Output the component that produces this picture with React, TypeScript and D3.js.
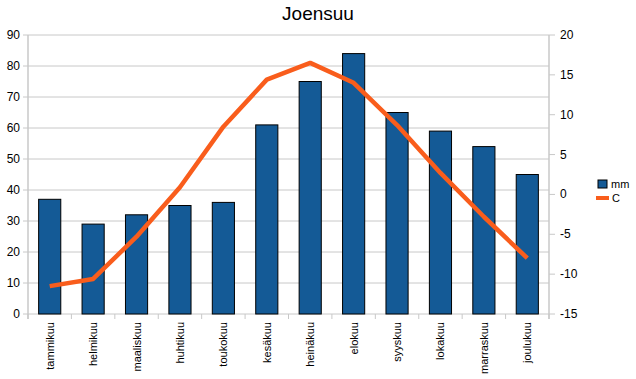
import React from "react";
import * as d3 from "d3";

const months = ["tammikuu","helmikuu","maaliskuu","huhtikuu","toukokuu","kesäkuu","heinäkuu","elokuu","syyskuu","lokakuu","marraskuu","joulukuu"];
const precip = [37, 29, 32, 35, 36, 61, 75, 84, 65, 59, 54, 45];
const temp = [-11.5, -10.6, -5.3, 0.9, 8.5, 14.4, 16.5, 14.0, 8.7, 2.7, -2.8, -8.0];
const leftTicks = [0, 10, 20, 30, 40, 50, 60, 70, 80, 90];
const rightTicks = [-15, -10, -5, 0, 5, 10, 15, 20];

export default function App() {
  const W = 636, H = 379;
  const x0 = 28, x1 = 549, yTop = 35, yBot = 314;
  const font = "'Liberation Sans', Arial, sans-serif";
  const x = d3.scaleBand<string>().domain(months).range([x0, x1]).paddingInner(0).paddingOuter(0);
  const yL = d3.scaleLinear().domain([0, 90]).range([yBot, yTop]);
  const yR = d3.scaleLinear().domain([-15, 20]).range([yBot, yTop]);
  const bw = x.bandwidth() * 0.51;
  const line = d3.line<number>()
    .x((_, i) => (x(months[i]) as number) + x.bandwidth() / 2)
    .y((d) => yR(d));
  const boundaries = months.map((m) => x(m) as number).concat([x1]);
  return (
    <svg width={W} height={H} style={{ position: "absolute", left: 0, top: 0 }}>
      <rect width={W} height={H} fill="#fff" />
      <text x={318} y={20} textAnchor="middle" fontFamily={font} fontSize={19} fill="#000">Joensuu</text>
      {leftTicks.map((t) => (
        <g key={"l" + t}>
          <line x1={x0 - 5} x2={x1} y1={yL(t)} y2={yL(t)} stroke="#c8c8c8" strokeWidth={1} />
          <text x={20} y={yL(t) + 4} textAnchor="end" fontFamily={font} fontSize={12} fill="#000">{t}</text>
        </g>
      ))}
      {rightTicks.map((t) => (
        <g key={"r" + t}>
          <line x1={x1} x2={x1 + 6} y1={yR(t)} y2={yR(t)} stroke="#c8c8c8" strokeWidth={1} />
          <text x={560} y={yR(t) + 4} textAnchor="start" fontFamily={font} fontSize={12} fill="#000">{t}</text>
        </g>
      ))}
      <line x1={x0} x2={x0} y1={yTop} y2={yBot + 5} stroke="#c8c8c8" strokeWidth={1.5} />
      <line x1={x1} x2={x1} y1={yTop} y2={yBot + 5} stroke="#c8c8c8" strokeWidth={1.5} />
      {boundaries.map((b, i) => (
        <line key={"b" + i} x1={b} x2={b} y1={yBot} y2={yBot + 5} stroke="#c8c8c8" strokeWidth={1} />
      ))}
      {precip.map((v, i) => {
        const cx = (x(months[i]) as number) + x.bandwidth() / 2;
        return (
          <rect key={"bar" + i} x={cx - bw / 2} y={yL(v)} width={bw} height={yBot - yL(v)}
            fill="#145a96" stroke="#000" strokeWidth={1} />
        );
      })}
      <path d={line(temp) || ""} fill="none" stroke="#f95d1c" strokeWidth={4.5} strokeLinejoin="round" />
      {months.map((m) => {
        const cx = (x(m) as number) + x.bandwidth() / 2;
        return (
          <text key={"x" + m} transform={`translate(${cx + 4},${yBot + 8}) rotate(-90)`} textAnchor="end"
            fontFamily={font} fontSize={11} fill="#000">{m}</text>
        );
      })}
      <rect x={598} y={180} width={9} height={8} fill="#145a96" stroke="#000" strokeWidth={1} />
      <text x={611} y={188} fontFamily={font} fontSize={11} fill="#000">mm</text>
      <line x1={596} x2={609} y1={198} y2={198} stroke="#f95d1c" strokeWidth={4} />
      <text x={612} y={202} fontFamily={font} fontSize={11} fill="#000">C</text>
    </svg>
  );
}
